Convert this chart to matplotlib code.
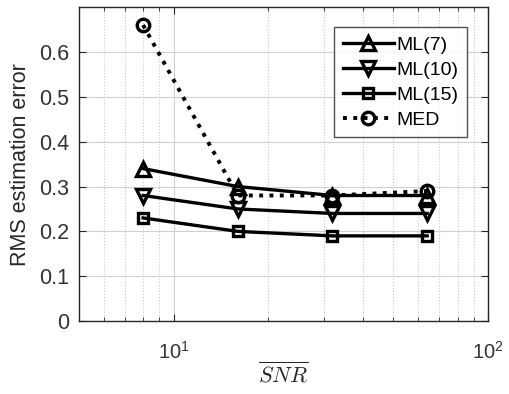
import math
import matplotlib
matplotlib.use("Agg")
import matplotlib.pyplot as plt
from matplotlib.ticker import FixedLocator, FuncFormatter, LogLocator, NullFormatter

plt.rcParams["font.family"] = ["Liberation Sans", "DejaVu Sans"]
plt.rcParams["mathtext.fontset"] = "cm"

snr = [8, 16, 32, 64]
ml7 = [0.34, 0.30, 0.28, 0.28]
ml10 = [0.28, 0.25, 0.24, 0.24]
ml15 = [0.23, 0.20, 0.19, 0.19]
med = [0.66, 0.28, 0.28, 0.29]

fig = plt.figure(figsize=(5.09, 3.94), dpi=100)
ax = fig.add_axes([0.155, 0.185, 0.804, 0.797])

lw = 2.4
mew = 2.4
ax.plot(snr, ml7, "-", color="k", lw=lw, marker="^", ms=10.5, mfc="none", mew=mew, label="ML(7)")
ax.plot(snr, ml10, "-", color="k", lw=lw, marker="v", ms=10.5, mfc="none", mew=mew, label="ML(10)")
ax.plot(snr, ml15, "-", color="k", lw=lw, marker="s", ms=7.5, mfc="none", mew=mew, label="ML(15)")
ax.plot(snr, med, ":", color="k", lw=lw + 0.4, marker="o", ms=9, mfc="none", mew=mew, label="MED")

ax.set_xscale("log")
ax.set_xlim(5, 100)
ax.set_ylim(0, 0.7)
ax.yaxis.set_major_locator(FixedLocator([0, 0.1, 0.2, 0.3, 0.4, 0.5, 0.6]))
ax.yaxis.set_major_formatter(FuncFormatter(lambda v, p: "0" if v == 0 else f"{v:.1f}"))
ax.xaxis.set_major_locator(FixedLocator([10, 100]))
ax.xaxis.set_major_formatter(FuncFormatter(lambda v, p: r"$\mathregular{10^{%d}}$" % round(math.log10(v))))
ax.xaxis.set_minor_locator(LogLocator(base=10, subs=range(2, 10)))
ax.xaxis.set_minor_formatter(NullFormatter())

ax.grid(True, which="major", color="#d0d0d0", lw=0.8, ls="-")
ax.grid(True, which="minor", axis="x", color="#c8c8c8", lw=0.8, ls=":")
ax.set_axisbelow(True)

ax.tick_params(which="both", direction="in", top=True, right=True, labelsize=15.5,
               colors="#262626", labelcolor="#333333")
ax.tick_params(axis="x", which="major", pad=14, length=5, labelsize=14.5)
ax.tick_params(axis="y", length=5, pad=7)
ax.tick_params(which="minor", length=3)
for s in ax.spines.values():
    s.set_color("#262626")
    s.set_linewidth(1.0)

ax.set_ylabel("RMS estimation error", fontsize=15.5, color="#262626", labelpad=6)
ax.set_xlabel(r"$\overline{SNR}$", fontsize=16, color="#262626", labelpad=0)

leg = ax.legend(loc="upper right", bbox_to_anchor=(0.949, 0.936), fontsize=14, frameon=True,
                fancybox=False, edgecolor="#262626", handlelength=2.6, handletextpad=0.15,
                borderpad=0.45, labelspacing=0.38, borderaxespad=0)
leg.get_frame().set_linewidth(1.0)

fig.savefig("out.png", dpi=100)
